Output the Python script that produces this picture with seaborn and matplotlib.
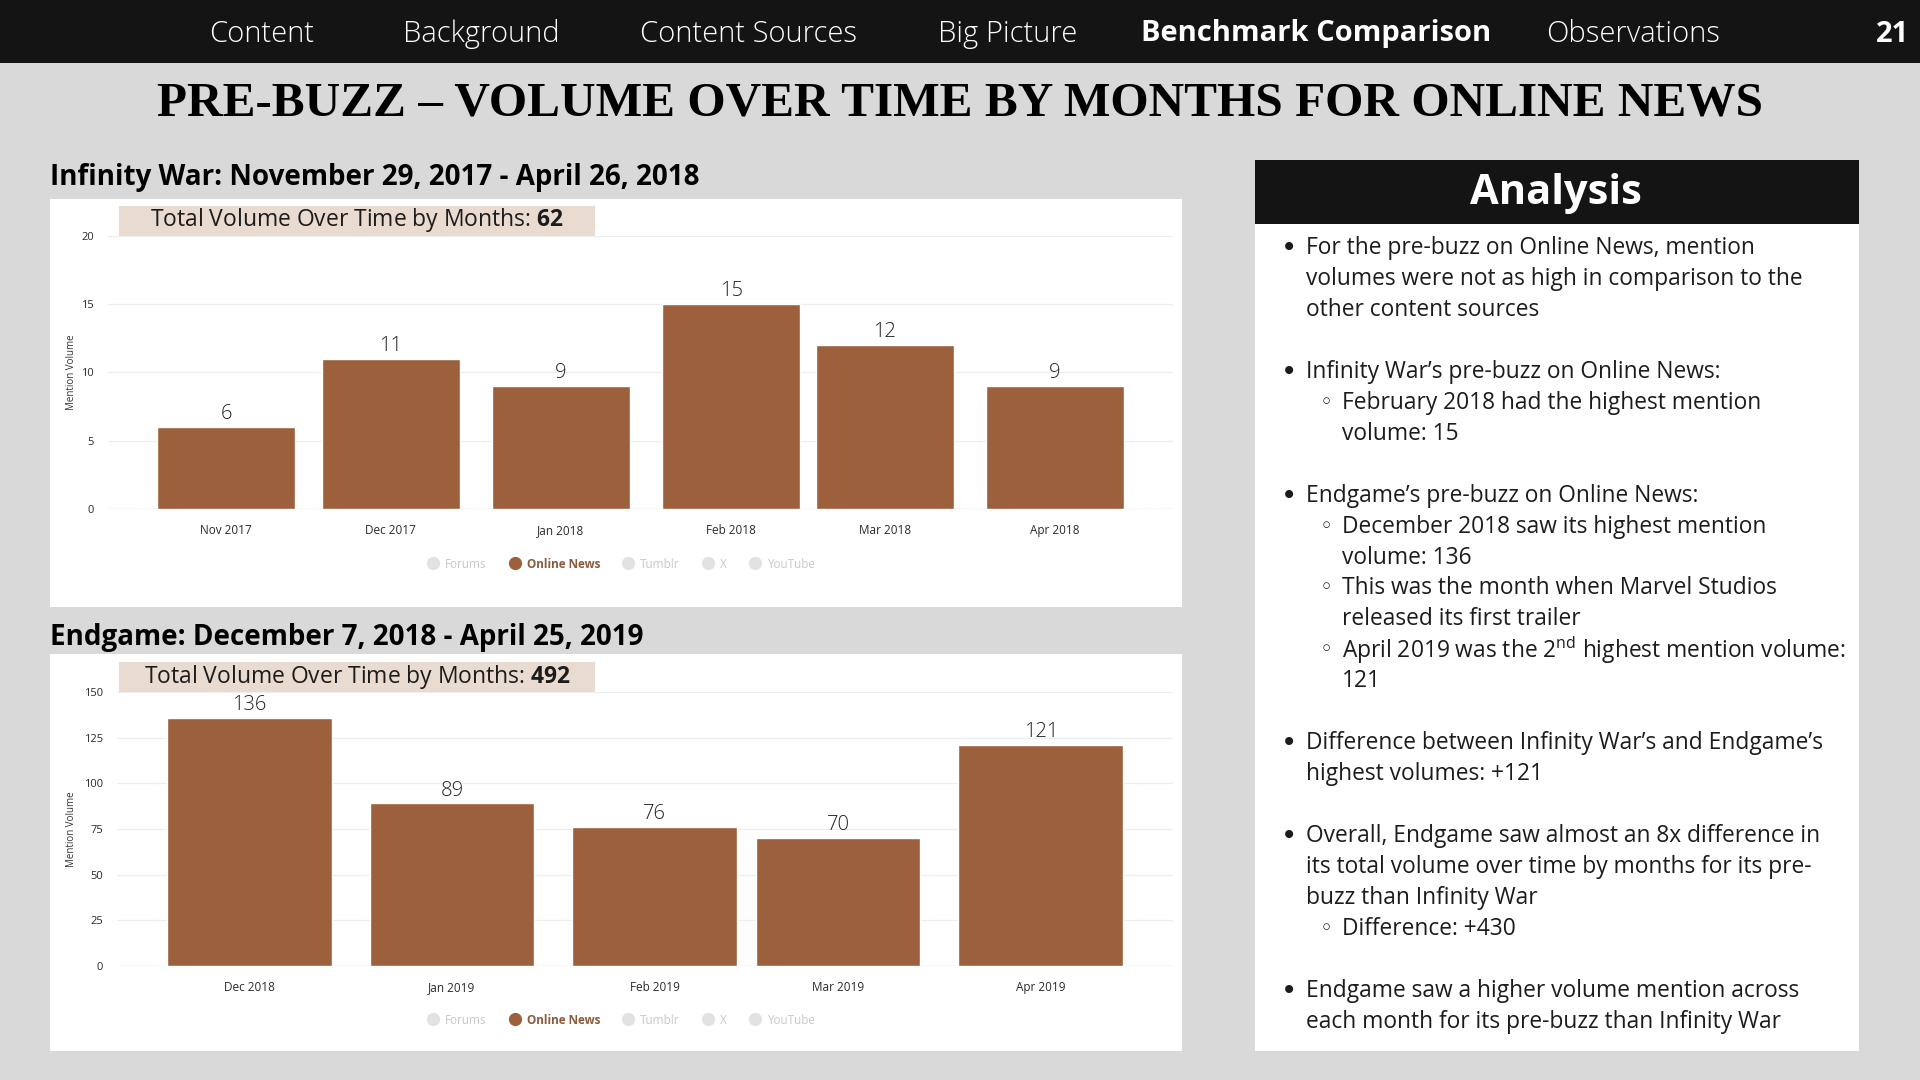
import matplotlib
matplotlib.use("Agg")
import matplotlib.pyplot as plt
import matplotlib.dates as mdates
from matplotlib.patches import Rectangle
from matplotlib.lines import Line2D
import numpy as np
import pandas as pd
import seaborn as sns

# ---- data -------------------------------------------------------------
iw_months = ["2017-11", "2017-12", "2018-01", "2018-02", "2018-03", "2018-04"]
iw_volume = [6, 11, 9, 15, 12, 9]
eg_months = ["2018-12", "2019-01", "2019-02", "2019-03", "2019-04"]
eg_volume = [136, 89, 76, 70, 121]

iw_title = "Infinity War: November 29, 2017 - April 26, 2018"
eg_title = "Endgame: December 7, 2018 - April 25, 2019"
iw_yticks = [0, 5, 10, 15, 20]
eg_yticks = [0, 25, 50, 75, 100, 125, 150]

sources = ["Forums", "Online News", "Tumblr", "X", "YouTube"]
active_source = "Online News"

nav_items = ["Content", "Background", "Content Sources", "Big Picture",
             "Benchmark Comparison", "Observations"]
nav_active = "Benchmark Comparison"
page_no = "21"
page_title = "PRE-BUZZ \u2013 VOLUME OVER TIME BY MONTHS FOR ONLINE NEWS"

# (level, lines) ; level 0 = bullet, 1 = sub-bullet ; None = empty line
analysis = [
    (0, ["For the pre-buzz on Online News, mention",
         "volumes were not as high in comparison to the",
         "other content sources"]),
    None,
    (0, ["Infinity War\u2019s pre-buzz on Online News:"]),
    (1, ["February 2018 had the highest mention", "volume: 15"]),
    None,
    (0, ["Endgame\u2019s pre-buzz on Online News:"]),
    (1, ["December 2018 saw its highest mention", "volume: 136"]),
    (1, ["This was the month when Marvel Studios", "released its first trailer"]),
    (1, ["April 2019 was the $\\mathrm{2}^{\\mathrm{nd}}$ highest mention volume:", "121"]),
    None,
    (0, ["Difference between Infinity War\u2019s and Endgame\u2019s",
         "highest volumes: +121"]),
    None,
    (0, ["Overall, Endgame saw almost an 8x difference in",
         "its total volume over time by months for its pre-",
         "buzz than Infinity War"]),
    (1, ["Difference: +430"]),
    None,
    (0, ["Endgame saw a higher volume mention across",
         "each month for its pre-buzz than Infinity War"]),
]

# ---- style ------------------------------------------------------------
BG = "#d9d9d9"
DARK = "#141414"
BROWN = "#9c603c"
BEIGE = "#e9dbd0"
TXT = "#1c1c1c"

sns.set_theme(style="white")
plt.rcParams["font.family"] = ["Open Sans", "DejaVu Sans"]
plt.rcParams["mathtext.fontset"] = "custom"
plt.rcParams["mathtext.rm"] = "Open Sans"
plt.rcParams["mathtext.bf"] = "Open Sans:bold"

W, H = 1920, 1080


def fx(x):
    return x / W


def fy(y):
    return 1 - y / H


def rect_px(x0, y0, x1, y1):
    return [x0 / W, 1 - y1 / H, (x1 - x0) / W, (y1 - y0) / H]


def box(fig, x0, y0, x1, y1, color, z=-1):
    fig.add_artist(Rectangle((fx(x0), fy(y1)), (x1 - x0) / W, (y1 - y0) / H,
                             transform=fig.transFigure, facecolor=color,
                             edgecolor="none", zorder=z))


fig = plt.figure(figsize=(19.2, 10.8), dpi=100, facecolor=BG)

# top navigation bar
box(fig, 0, 0, W, 63, DARK)
nav_x = [262, 481, 749, 1008, 1316, 1633]
for x, item in zip(nav_x, nav_items):
    fig.text(fx(x), fy(34), item, color="white", fontsize=21,
             fontweight="bold" if item == nav_active else "light",
             ha="center", va="center")
fig.text(fx(1893), fy(34), page_no, color="white", fontsize=21,
         fontweight="bold", ha="center", va="center")

fig.text(0.5, fy(103), page_title, family="Liberation Serif", fontweight="bold",
         fontsize=35.5, color="black", ha="center", va="center")


def month_chart(fig, months, volume, title, yticks, panel, plot, pad_days,
                title_y, legend_y):
    x0, y0, x1, y1 = panel
    box(fig, x0, y0, x1, y1, "white")
    fig.text(fx(50), fy(title_y), title, fontsize=20, fontweight="bold",
             color="black", ha="left", va="center")

    dates = pd.to_datetime(months)
    df = pd.DataFrame({"month": mdates.date2num(dates), "volume": volume})

    ax = fig.add_axes(rect_px(*plot))
    ax.set_facecolor("white")
    sns.barplot(data=df, x="month", y="volume", native_scale=True, width=0.9,
                color=BROWN, saturation=1, errorbar=None, orient="x", ax=ax,
                zorder=2)
    ax.set_xlim(df["month"].iloc[0] - pad_days, df["month"].iloc[-1] + pad_days)
    ax.set_ylim(yticks[0], yticks[-1])
    ax.set_yticks(yticks)
    ax.set_xticks(df["month"])
    ax.set_xticklabels(dates.strftime("%b %Y"))
    ax.set_xlabel("")
    ax.set_ylabel("")
    ax.tick_params(axis="x", length=0, labelsize=8.5, colors="#2a2a2a", pad=11)
    ax.tick_params(axis="y", length=0, labelsize=8, colors="#2a2a2a", pad=10)
    for s in ax.spines.values():
        s.set_visible(False)
    ax.yaxis.grid(True, color="#eeeeee", lw=0.9)
    ax.set_axisbelow(True)
    ax.axhline(0, color="#cfcfcf", lw=1, ls=(0, (1, 1)), zorder=1)
    ax.bar_label(ax.containers[0], padding=2, fontsize=14.5, color="#222222",
                 fontweight="light")

    mid = (plot[1] + plot[3]) / 2
    fig.text(fx(71), fy(mid), "Mention Volume", rotation=90, fontsize=7,
             color="#333333", ha="center", va="center")

    # total label box
    by = plot[1]
    box(fig, 119, by - 30, 595, by, BEIGE, z=2)
    fig.text(fx(357), fy(by - 15),
             "Total Volume Over Time by Months: $\\mathbf{%d}$" % sum(volume),
             fontsize=16.5, color=TXT, ha="center", va="center", zorder=3)

    handles = []
    for src in sources:
        c = BROWN if src == active_source else "#e2e2e2"
        handles.append(Line2D([], [], marker="o", ls="", markersize=8.5,
                              markerfacecolor=c, markeredgecolor=c))
    leg = ax.legend(handles, sources, loc="center", ncol=5, frameon=False,
                    bbox_to_anchor=(fx(621), fy(legend_y)),
                    bbox_transform=fig.transFigure, fontsize=8.5,
                    handletextpad=0.5, columnspacing=1.9, handlelength=1)
    for t, src in zip(leg.get_texts(), sources):
        if src == active_source:
            t.set_color("#8b5a3c")
            t.set_fontweight("bold")
        else:
            t.set_color("#c8c8c8")
    return ax


month_chart(fig, iw_months, iw_volume, iw_title, iw_yticks,
            panel=(50, 199, 1182, 607), plot=(108, 235.5, 1173, 509),
            pad_days=21.5, title_y=177, legend_y=564)
month_chart(fig, eg_months, eg_volume, eg_title, eg_yticks,
            panel=(50, 654, 1182, 1051), plot=(117, 692, 1173, 966),
            pad_days=20.2, title_y=638, legend_y=1020)

# analysis panel
box(fig, 1255, 160, 1859, 224, DARK)
box(fig, 1255, 224, 1859, 1051, "white")
fig.text(fx(1556), fy(193), "Analysis", color="white", fontsize=30,
         fontweight="bold", ha="center", va="center")

line_y0, line_step = 248, 30.95
i = 0
for entry in analysis:
    if entry is None:
        i += 1
        continue
    level, lines = entry
    bx, tx = (1289, 1306) if level == 0 else (1326, 1342)
    mark = "\u2022" if level == 0 else "\u25e6"
    fig.text(fx(bx), fy(line_y0 + i * line_step), mark,
             fontsize=20 if level == 0 else 16, family="DejaVu Sans",
             color=TXT, ha="center", va="center")
    for ln in lines:
        fig.text(fx(tx), fy(line_y0 + i * line_step), ln, fontsize=16.4,
                 color=TXT, ha="left", va="center")
        i += 1

fig.savefig("out.png", dpi=100, facecolor=BG)
